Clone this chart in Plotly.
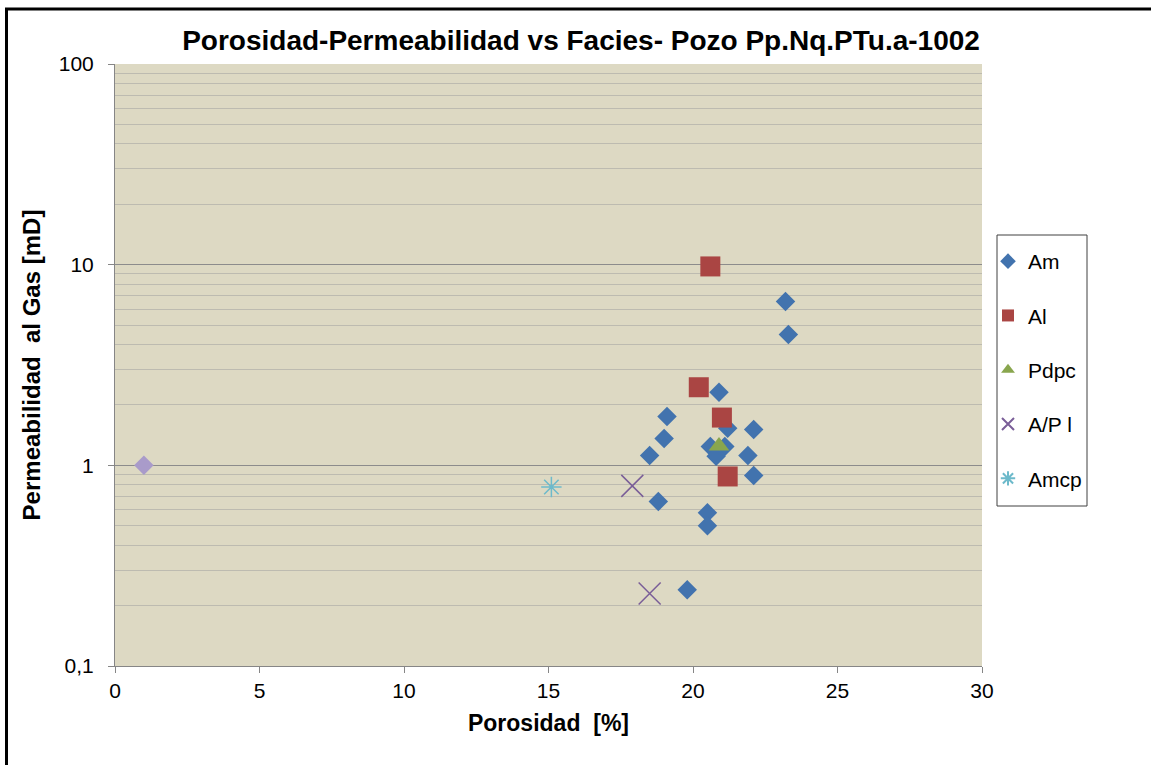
import plotly.graph_objects as go

# Porosity [%] and gas permeability [mD] per facies
am_por = [23.2, 23.3, 20.9, 19.1, 21.2, 22.1, 19.0, 20.6, 21.1, 18.5, 20.8, 21.9, 22.1, 18.8, 20.5, 20.5, 19.8]
am_perm = [6.56, 4.49, 2.31, 1.75, 1.53, 1.51, 1.36, 1.24, 1.24, 1.12, 1.11, 1.12, 0.89, 0.66, 0.58, 0.50, 0.24]

al_por = [20.6, 20.2, 21.0, 21.2]
al_perm = [9.8, 2.45, 1.73, 0.88]

pdpc_por = [20.9]
pdpc_perm = [1.25]

apl_por = [17.9, 18.5]
apl_perm = [0.79, 0.23]

amcp_por = [15.1]
amcp_perm = [0.78]

extra_por = [1.0]
extra_perm = [1.0]

y_tick_vals = [0.1, 1, 10, 100]
y_tick_text = ["0,1", "1", "10", "100"]
x_tick_vals = [0, 5, 10, 15, 20, 25, 30]
minor_vals = [m * d for d in (0.1, 1, 10) for m in range(2, 10)]

FONT = "Liberation Sans, Arial, sans-serif"

fig = go.Figure()

series = [
    ("Am", am_por, am_perm, dict(symbol="diamond", size=15, color="#4273AE")),
    ("Al", al_por, al_perm, dict(symbol="square", size=20, color="#AA4543")),
    ("Pdpc", pdpc_por, pdpc_perm, dict(symbol="triangle-up", size=18, color="#89A64E")),
    ("A/P l", apl_por, apl_perm, dict(symbol="x-thin-open", size=22, color="#7A5E98",
                                      line=dict(width=1.5, color="#7A5E98"))),
    ("Amcp", amcp_por, amcp_perm, dict(symbol="asterisk-open", size=17, color="#6DBACB",
                                       line=dict(width=1.5, color="#6DBACB"))),
]
for name, xs, ys, mk in series:
    fig.add_trace(go.Scatter(x=xs, y=ys, mode="markers", name=name, marker=mk,
                             legendgroup=name))

fig.add_trace(go.Scatter(x=extra_por, y=extra_perm, mode="markers", showlegend=False,
                         marker=dict(symbol="diamond", size=15, color="#A99BCA")))

# plot area: x 115..982 px, y 64..666 px
W, H = 1151, 765
L, R, T, B = 115, 169, 64, 99
pw, ph = W - L - R, H - T - B


def px(x):
    return (x - L) / pw


def py(y):
    return (H - B - y) / ph


fig.update_layout(
    width=W, height=H,
    margin=dict(l=L, r=R, t=T, b=B),
    paper_bgcolor="white",
    plot_bgcolor="#DDD9C3",
    separators=",.",
    font=dict(family=FONT, size=21, color="black"),
    title=dict(text="<b>Porosidad-Permeabilidad vs Facies- Pozo Pp.Nq.PTu.a-1002</b>",
               x=581 / W, xanchor="center", y=1 - 40 / H, yanchor="middle",
               font=dict(size=28, family=FONT, color="black")),
    xaxis=dict(range=[0, 30], tickvals=x_tick_vals, showgrid=False, zeroline=False,
               showline=True, linecolor="#868686", linewidth=1,
               ticks="outside", ticklen=6, tickcolor="#868686",
               tickfont=dict(size=21),
               title=dict(text="<b>Porosidad\u00a0 [%]</b>", font=dict(size=23), standoff=13)),
    yaxis=dict(type="log", range=[-1, 2], tickvals=y_tick_vals, ticktext=y_tick_text,
               showgrid=True, gridcolor="#8C8C8C", gridwidth=1, zeroline=False,
               showline=True, linecolor="#868686", linewidth=1,
               ticks="outside", ticklen=6, tickcolor="#868686",
               tickfont=dict(size=21), ticklabelstandoff=10,
               minor=dict(tickvals=minor_vals, showgrid=True, gridcolor="#BDBBB0",
                          gridwidth=1, ticks=""),
               title=dict(text="<b>Permeabilidad\u00a0 al Gas [mD]</b>", font=dict(size=24),
                          standoff=11)),
    legend=dict(x=px(988), y=py(241), xanchor="left", yanchor="top",
                bgcolor="rgba(0,0,0,0)", borderwidth=0,
                font=dict(size=21), traceorder="grouped", tracegroupgap=24,
                itemsizing="constant"),
    shapes=[
        # legend frame
        dict(type="rect", xref="paper", yref="paper",
             x0=px(997), x1=px(1087), y0=py(506), y1=py(235),
             line=dict(color="#404040", width=1), fillcolor="rgba(0,0,0,0)"),
        # outer chart frame
        dict(type="rect", xref="paper", yref="paper",
             x0=px(6.5), x1=px(1165), y0=py(780), y1=py(9),
             line=dict(color="black", width=3), fillcolor="rgba(0,0,0,0)",
             layer="above"),
    ],
)

fig.write_html("out.html")
